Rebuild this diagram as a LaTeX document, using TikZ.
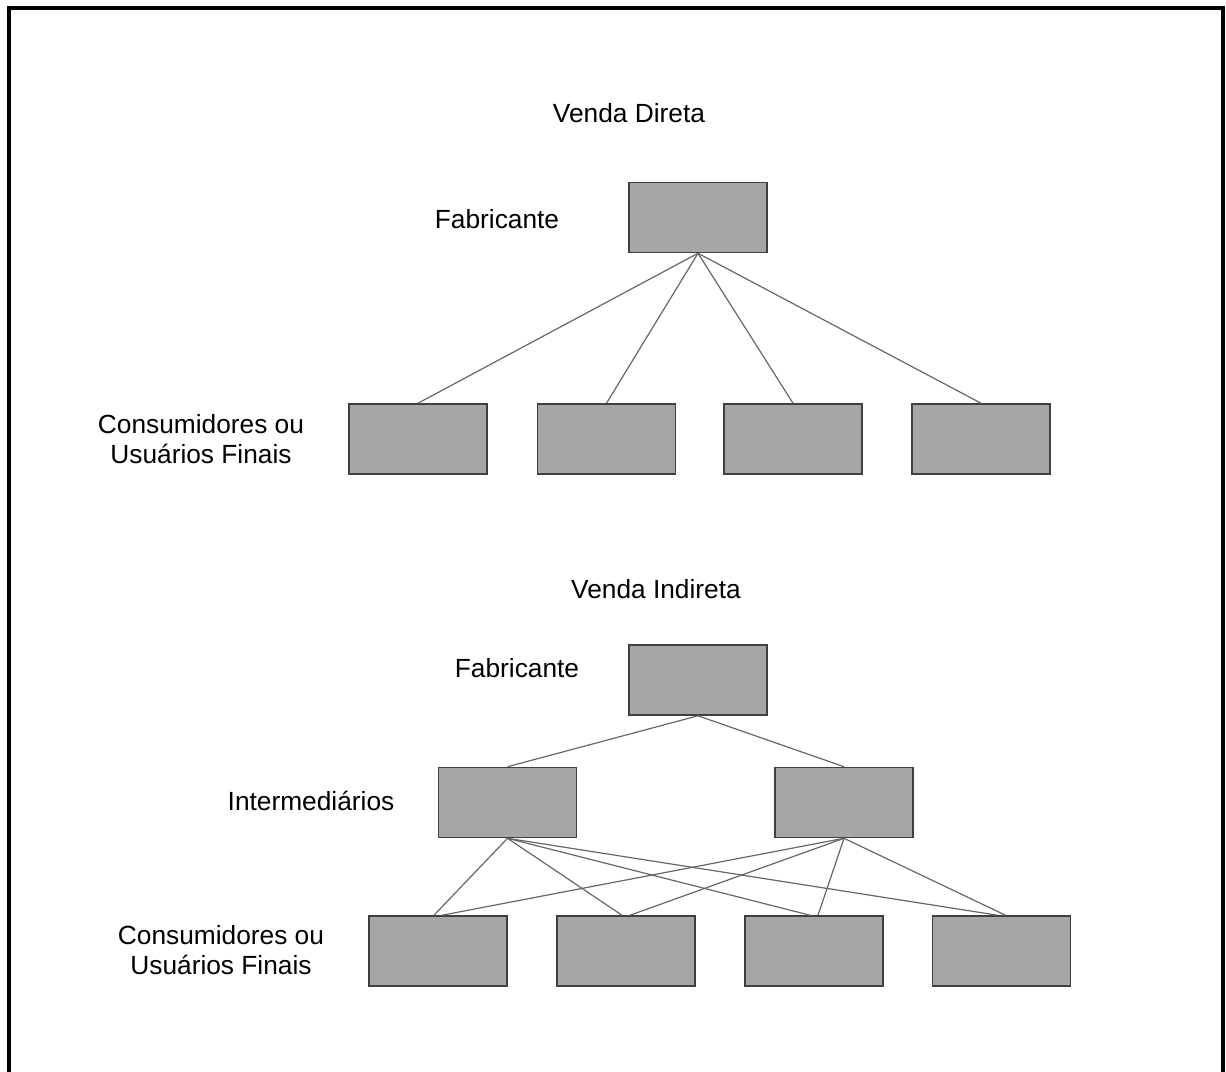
\documentclass[tikz,border=0pt]{standalone}
\usepackage{fontspec}
\setmainfont{Liberation Sans}

\begin{document}
\begin{tikzpicture}[
  x=0.025cm, y=-0.025cm,
  boxnode/.style={rectangle, draw=black!75, line width=1.1pt, fill=black!35, minimum width=3.45cm, minimum height=1.75cm},
  labelnode/.style={align=center, font=\fontsize{18.7}{21.3}\selectfont},
  linkline/.style={draw=black!60, line width=0.85pt}
]
\useasboundingbox (0,0) rectangle (1226,1072);

% Frame
\draw[line width=2.8pt] (9,1090) -- (9,8) -- (1223,8) -- (1223,1090);

% Venda direta
\node[labelnode] (titledir) at (629,113) {Venda Direta};
\node[labelnode] (fablbl1) at (497,219) {Fabricante};
\node[labelnode] (conslbl1) at (201,439) {Consumidores ou\\Usuários Finais};

\node[boxnode] (fab1) at (698,217.5) {};
\node[boxnode] (cd1) at (418,439) {};
\node[boxnode] (cd2) at (606.5,439) {};
\node[boxnode] (cd3) at (793,439) {};
\node[boxnode] (cd4) at (981,439) {};

\foreach \i in {1,...,4}
  \draw[linkline] (fab1.south) -- (cd\i.north);

% Venda indireta
\node[labelnode] (titleind) at (656,589) {Venda Indireta};
\node[labelnode] (fablbl2) at (517,668) {Fabricante};
\node[labelnode] (intlbl) at (311,801) {Intermediários};
\node[labelnode] (conslbl2) at (221,950) {Consumidores ou\\Usuários Finais};

\node[boxnode] (fab2) at (698,680) {};
\node[boxnode] (int1) at (507.5,802.5) {};
\node[boxnode] (int2) at (844,802.5) {};
\node[boxnode] (ci1) at (438,951) {};
\node[boxnode] (ci2) at (626,951) {};
\node[boxnode] (ci3) at (814,951) {};
\node[boxnode] (ci4) at (1001.5,951) {};

\draw[linkline] (fab2.south) -- (int1.north);
\draw[linkline] (fab2.south) -- (int2.north);
\foreach \i in {1,...,4} {
  \draw[linkline] (int1.south) -- ([xshift=-0.1cm]ci\i.north);
  \draw[linkline] (int2.south) -- ([xshift=0.1cm]ci\i.north);
}

\end{tikzpicture}
\end{document}
